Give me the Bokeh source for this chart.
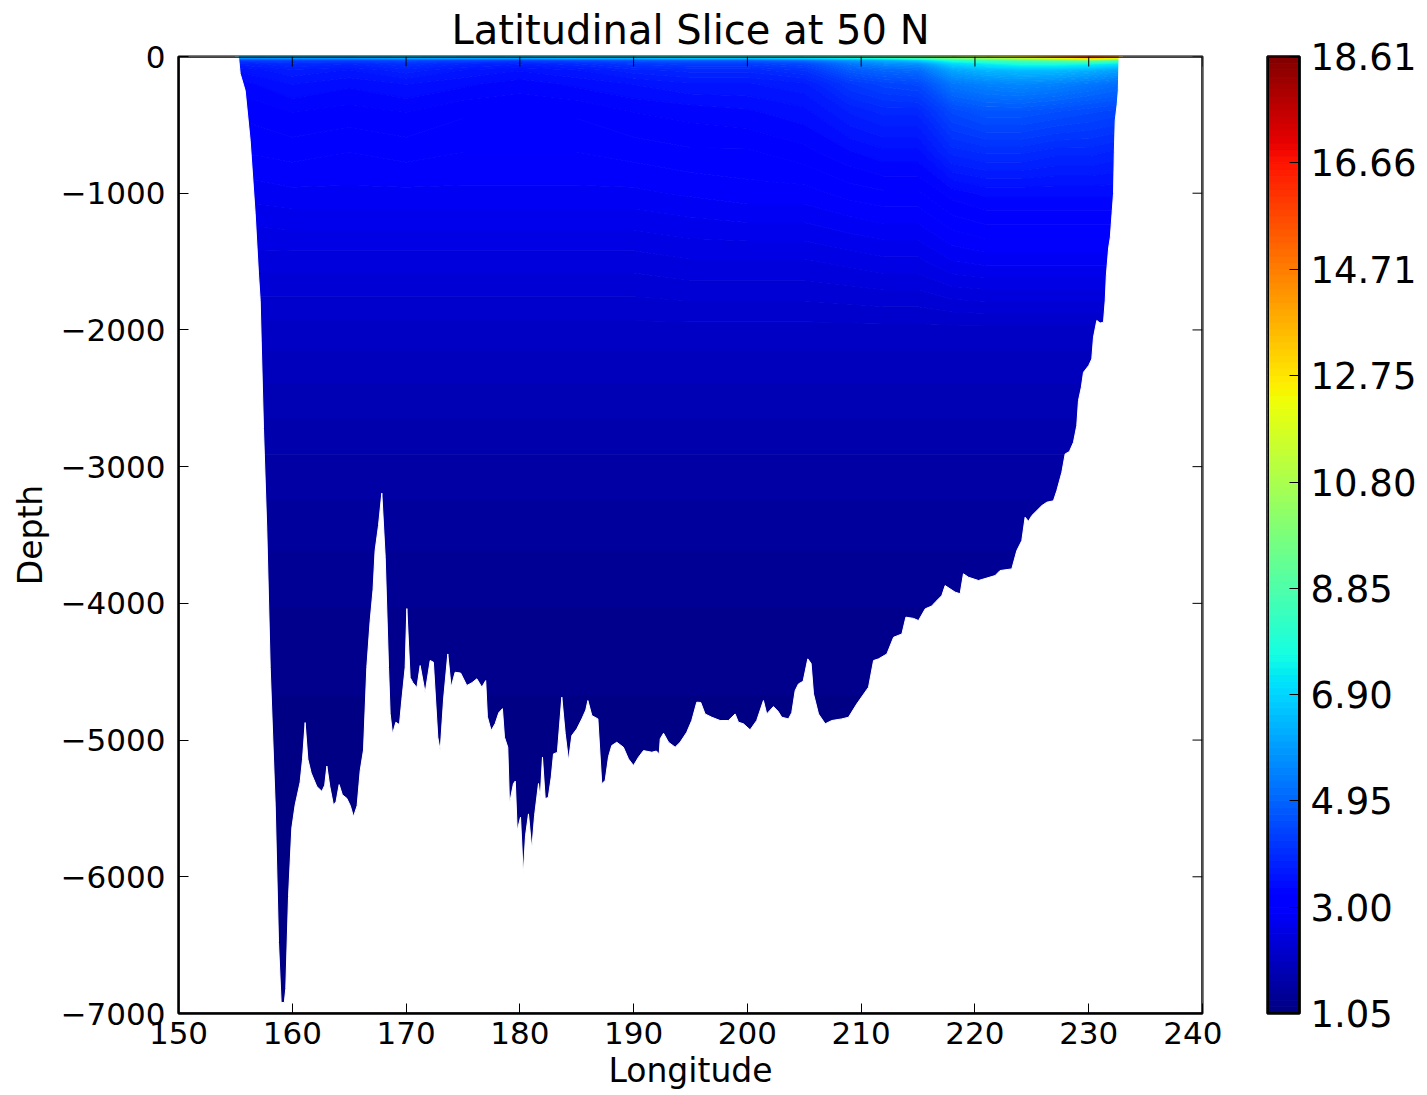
import numpy as np
from bokeh.plotting import figure
from bokeh.models import Range1d, FixedTicker
from bokeh.layouts import row
from bokeh.embed import file_html
from bokeh.resources import INLINE

# ---------------- data ----------------
# sea-floor profile (longitude, depth in m)
bathy_lon = [155.27, 155.42, 155.86, 156.30, 156.74, 157.03, 157.18, 157.27, 157.47, 157.76,
             158.06, 158.50, 158.79, 159.02, 159.30, 159.43, 159.67, 159.96, 160.25, 160.69,
             160.90, 161.13, 161.37, 161.66, 162.16, 162.60, 162.85, 163.04, 163.30, 163.62,
             163.85, 164.12, 164.40, 164.79, 165.10, 165.38, 165.70, 165.97, 166.26, 166.55,
             166.84, 167.10, 167.28, 167.58, 167.87, 168.17, 168.46, 168.60, 168.81, 169.10,
             169.42, 169.63, 169.92, 170.07, 170.36, 170.60, 170.95, 171.24, 171.68, 172.12,
             172.40, 172.79, 173.00, 173.30, 173.67, 173.96, 174.31, 174.80, 175.34, 175.80,
             176.22, 176.66, 177.00, 177.15, 177.48, 177.83, 178.15, 178.47, 178.65, 178.94,
             179.09, 179.44, 179.60, 179.77, 180.06, 180.30, 180.50, 180.76, 181.05, 181.30,
             181.64, 181.79, 181.99, 182.23, 182.50, 182.76, 182.96, 183.30, 183.69, 183.99,
             184.28, 184.57, 185.01, 185.45, 185.80, 185.98, 186.33, 186.86, 187.20, 187.50,
             187.80, 188.08, 188.52, 189.10, 189.55, 189.99, 190.43, 190.87, 191.60, 192.00,
             192.25, 192.34, 192.63, 193.07, 193.65, 194.09, 194.67, 195.11, 195.55, 195.90,
             196.28, 196.87, 197.60, 198.33, 198.92, 199.21, 199.65, 200.24, 200.82, 201.41,
             201.70, 202.29, 202.70, 203.02, 203.61, 203.90, 204.20, 204.49, 204.90, 205.31,
             205.60, 205.81, 206.25, 206.84, 207.42, 208.30, 208.89, 209.62, 210.65, 211.09,
             211.53, 212.26, 212.85, 213.58, 213.93, 214.60, 215.04, 215.63, 216.20, 216.51,
             217.09, 217.38, 218.26, 218.70, 218.99, 219.43, 220.31, 221.77, 222.21, 223.24,
             223.68, 224.12, 224.41, 224.70, 225.00, 225.88, 226.32, 226.90, 227.20, 227.64,
             227.93, 228.30, 228.66, 228.95, 229.10, 229.35, 229.54, 230.00, 230.27, 230.42,
             230.71, 231.00, 231.30, 231.45, 231.55, 231.75, 231.90, 232.05, 232.18, 232.25,
             232.33, 232.50, 232.60, 232.67]
bathy_depth = [0, -125, -249, -615, -1150, -1590, -1785, -2080, -2722, -3460,
               -4470, -5476, -6481, -6919, -6920, -6818, -6145, -5644, -5476, -5308,
               -5140, -4872, -5140, -5241, -5340, -5375, -5330, -5190, -5340, -5476,
               -5450, -5326, -5400, -5426, -5480, -5560, -5480, -5223, -5073, -4470,
               -4133, -3900, -3614, -3430, -3194, -3665, -4470, -4806, -4956, -4870,
               -4887, -4704, -4470, -4038, -4543, -4580, -4616, -4455, -4653, -4418,
               -4430, -4979, -5077, -4700, -4370, -4613, -4504, -4510, -4601, -4580,
               -4552, -4613, -4565, -4830, -4930, -4880, -4800, -4770, -4979, -5052,
               -5465, -5318, -5300, -5662, -5564, -5980, -5700, -5540, -5795, -5550,
               -5318, -5428, -5125, -5428, -5420, -5271, -5101, -5090, -4686, -4953,
               -5150, -4967, -4918, -4845, -4780, -4711, -4821, -4845, -5320, -5296,
               -5120, -5040, -5016, -5052, -5138, -5186, -5125, -5077, -5089, -5080,
               -5101, -4991, -4950, -5016, -5052, -5016, -4943, -4857, -4723, -4725,
               -4809, -4833, -4857, -4857, -4809, -4869, -4881, -4925, -4857, -4711,
               -4809, -4755, -4790, -4833, -4845, -4800, -4638, -4589, -4570, -4406,
               -4440, -4662, -4809, -4881, -4857, -4845, -4833, -4735, -4613, -4418,
               -4406, -4370, -4248, -4224, -4101, -4110, -4126, -4040, -4020, -3991,
               -3943, -3870, -3918, -3930, -3784, -3809, -3833, -3797, -3760, -3748,
               -3614, -3541, -3370, -3400, -3358, -3285, -3260, -3250, -3175, -3041,
               -2907, -2890, -2822, -2700, -2517, -2420, -2310, -2260, -2212, -2053,
               -1931, -1950, -1943, -1785, -1600, -1400, -1322, -1150, -1002, -700,
               -468, -350, -249, 0]

# temperature of the upper ocean (rows = depth, columns = longitude)
upper_lon = [155, 160, 165, 170, 175, 180, 185, 190, 195, 200,
             205, 209, 212, 215, 218, 221, 224, 227, 230, 233]
upper_depth = [0, -10, -25, -50, -100, -200, -400, -700, -1000, -1500]
upper_temp = [
    [6.8, 7.0, 7.0, 7.2, 7.0, 7.2, 7.5, 7.5, 7.8, 7.8, 8.0, 8.5, 9.0, 9.8, 10.8, 11.8, 12.8, 14.2, 15.5, 14.5],
    [5.5, 5.7, 5.7, 5.9, 5.7, 5.9, 6.1, 6.2, 6.4, 6.4, 6.7, 7.2, 7.7, 8.3, 9.5, 10.2, 10.8, 11.5, 12.5, 11.5],
    [4.3, 4.4, 4.4, 4.5, 4.4, 4.4, 4.5, 4.7, 4.9, 4.9, 5.2, 5.9, 6.3, 6.8, 8.0, 8.6, 9.0, 9.3, 9.6, 8.8],
    [3.8, 4.0, 3.9, 4.1, 3.9, 3.8, 4.0, 4.2, 4.3, 4.3, 4.5, 5.3, 5.7, 5.8, 7.0, 7.4, 7.8, 7.8, 7.6, 7.2],
    [3.5, 3.7, 3.6, 3.8, 3.6, 3.5, 3.6, 3.8, 3.9, 3.9, 4.1, 4.8, 5.0, 5.1, 6.1, 6.4, 6.5, 6.5, 6.3, 6.0],
    [3.3, 3.5, 3.4, 3.5, 3.4, 3.3, 3.4, 3.5, 3.6, 3.6, 3.7, 4.2, 4.4, 4.5, 5.3, 5.5, 5.6, 5.5, 5.3, 5.1],
    [3.15, 3.25, 3.2, 3.25, 3.15, 3.15, 3.15, 3.25, 3.3, 3.35, 3.45, 3.75, 3.9, 3.9, 4.5, 4.7, 4.7, 4.6, 4.5, 4.4],
    [3.0, 3.05, 3.0, 3.05, 3.0, 3.0, 3.0, 3.05, 3.1, 3.1, 3.2, 3.35, 3.45, 3.45, 3.9, 4.0, 4.0, 3.9, 3.9, 3.8],
    [2.8, 2.85, 2.85, 2.85, 2.85, 2.85, 2.85, 2.85, 2.9, 2.95, 2.95, 3.05, 3.1, 3.1, 3.3, 3.4, 3.4, 3.4, 3.4, 3.4],
    [2.45, 2.45, 2.45, 2.45, 2.45, 2.45, 2.45, 2.45, 2.5, 2.5, 2.5, 2.55, 2.6, 2.6, 2.75, 2.8, 2.8, 2.8, 2.8, 2.8],
]
# deep-water temperature profile (same along the section)
deep_depth = [-2000, -2500, -3000, -3500, -4000, -4500, -5000, -6000, -7000]
deep_temp = [2.1, 1.85, 1.62, 1.45, 1.3, 1.2, 1.12, 1.07, 1.06]

x_ticks = [150, 160, 170, 180, 190, 200, 210, 220, 230, 240]
y_ticks = [0, -1000, -2000, -3000, -4000, -5000, -6000, -7000]
y_tick_labels = ["0", "\u22121000", "\u22122000", "\u22123000", "\u22124000",
                 "\u22125000", "\u22126000", "\u22127000"]
cbar_ticks = [1.05, 3.00, 4.95, 6.90, 8.85, 10.80, 12.75, 14.71, 16.66, 18.61]
cbar_labels = ["1.05", "3.00", "4.95", "6.90", "8.85", "10.80", "12.75", "14.71", "16.66", "18.61"]
t_min, t_max = 1.05, 18.61
n_bands = 144

# ---------------- colours (matplotlib "jet") ----------------
def jet_hex(v):
    r = np.interp(v, [0, 0.35, 0.66, 0.89, 1], [0, 0, 1, 1, 0.5])
    g = np.interp(v, [0, 0.125, 0.375, 0.64, 0.91, 1], [0, 0, 1, 1, 0, 0])
    b = np.interp(v, [0, 0.11, 0.34, 0.65, 1], [0.5, 1, 1, 0, 0])
    return ["#%02x%02x%02x" % (int(round(a * 255)), int(round(c * 255)), int(round(d * 255)))
            for a, c, d in zip(np.atleast_1d(r), np.atleast_1d(g), np.atleast_1d(b))]

levels = np.linspace(t_min, t_max, n_bands + 1)
mids = 0.5 * (levels[:-1] + levels[1:])
band_colors = jet_hex((mids - t_min) / (t_max - t_min))
level_colors = jet_hex((levels - t_min) / (t_max - t_min))

# ---------------- field assembly ----------------
lon_arr = np.array(upper_lon, dtype=float)
dep_arr = np.array(upper_depth + deep_depth, dtype=float)
z = np.vstack([np.array(upper_temp, dtype=float),
               np.tile(np.array(deep_temp, dtype=float)[:, None], (1, len(upper_lon)))])
order = np.argsort(dep_arr)
dep_arr = dep_arr[order]
z = z[order, :]

FONT = "DejaVu Sans"
FS = "31px"
FRAME_W, FRAME_H = 1024, 957
x_lo, x_hi = x_ticks[0], x_ticks[-1]
y_lo, y_hi = y_ticks[-1], y_ticks[0]
TICK_PX = 10

# ---------------- main figure ----------------
p = figure(frame_width=FRAME_W, frame_height=FRAME_H,
           x_range=Range1d(x_lo, x_hi), y_range=Range1d(y_lo, y_hi),
           output_backend="svg", toolbar_location=None,
           min_border_left=178, min_border_right=20, min_border_top=56, min_border_bottom=77)
p.background_fill_color = "white"
p.border_fill_color = "white"
p.xgrid.visible = False
p.ygrid.visible = False

p.contour(lon_arr, dep_arr, z, levels, fill_color=band_colors,
          line_color=level_colors, line_width=1.2)

patch_x = [x_lo] + bathy_lon + [x_hi, x_hi, x_lo]
patch_y = [y_hi] + bathy_depth + [y_hi, y_lo, y_lo]
p.patch(patch_x, patch_y, fill_color="white", line_color="white", line_width=1)

# ticks on the top and right edges (inward, like the left/bottom ones)
dx = TICK_PX * (x_hi - x_lo) / FRAME_W
dy = TICK_PX * (y_hi - y_lo) / FRAME_H
p.segment(x0=x_ticks, y0=[y_hi] * len(x_ticks), x1=x_ticks, y1=[y_hi - dy] * len(x_ticks),
          line_color="black", line_width=1)
p.segment(x0=[x_hi] * len(y_ticks), y0=y_ticks, x1=[x_hi - dx] * len(y_ticks), y1=y_ticks,
          line_color="black", line_width=1)
# frame drawn above the filled field
p.quad(left=[x_lo], right=[x_hi], bottom=[y_lo], top=[y_hi],
       fill_color=None, line_color="black", line_width=2.5)

p.outline_line_color = "black"
p.outline_line_width = 2

def style_axis(ax, size):
    ax.axis_line_color = "black"
    ax.axis_line_width = 2
    ax.major_tick_in = TICK_PX
    ax.major_tick_out = 0
    ax.minor_tick_line_color = None
    ax.major_tick_line_color = "black"
    ax.major_tick_line_width = 1
    ax.major_label_text_font = FONT
    ax.major_label_text_font_size = size
    ax.major_label_text_color = "black"
    ax.axis_label_text_font = FONT
    ax.axis_label_text_font_style = "normal"
    ax.axis_label_text_font_size = "33px"
    ax.axis_label_text_color = "black"

p.xaxis.ticker = FixedTicker(ticks=x_ticks)
p.yaxis.ticker = FixedTicker(ticks=y_ticks)
p.yaxis.major_label_overrides = {t: s for t, s in zip(y_ticks, y_tick_labels)}
style_axis(p.xaxis[0], FS)
style_axis(p.yaxis[0], FS)
p.xaxis.axis_label = "Longitude"
p.yaxis.axis_label = "Depth"
p.xaxis.major_label_standoff = 8
p.yaxis.major_label_standoff = 13
p.xaxis.axis_label_standoff = 4
p.yaxis.axis_label_standoff = 8

p.title.text = "Latitudinal Slice at 50 N"
p.title.align = "center"
p.title.text_font = FONT
p.title.text_font_size = "40px"
p.title.text_font_style = "normal"
p.title.text_color = "black"
p.title.standoff = 8

# ---------------- colour bar figure ----------------
cb = figure(frame_width=32, frame_height=FRAME_H,
            x_range=Range1d(0, 1), y_range=Range1d(t_min, t_max),
            output_backend="svg", toolbar_location=None, y_axis_location="right",
            min_border_left=45, min_border_right=118, min_border_top=56, min_border_bottom=77)
cb.xgrid.visible = False
cb.ygrid.visible = False
cb.quad(left=0, right=1, bottom=levels[:-1], top=levels[1:],
        fill_color=band_colors, line_color=band_colors, line_width=1)
cb.quad(left=[0], right=[1], bottom=[t_min], top=[t_max],
        fill_color=None, line_color="black", line_width=3)
cb.xaxis.visible = False
cb.outline_line_color = "black"
cb.outline_line_width = 2.5
cb.yaxis.ticker = FixedTicker(ticks=cbar_ticks)
cb.yaxis.major_label_overrides = {t: s for t, s in zip(cbar_ticks, cbar_labels)}
style_axis(cb.yaxis[0], "37px")
cb.yaxis.major_label_standoff = 11

layout = row(p, cb)
open("out.html", "w").write(file_html(layout, INLINE))
